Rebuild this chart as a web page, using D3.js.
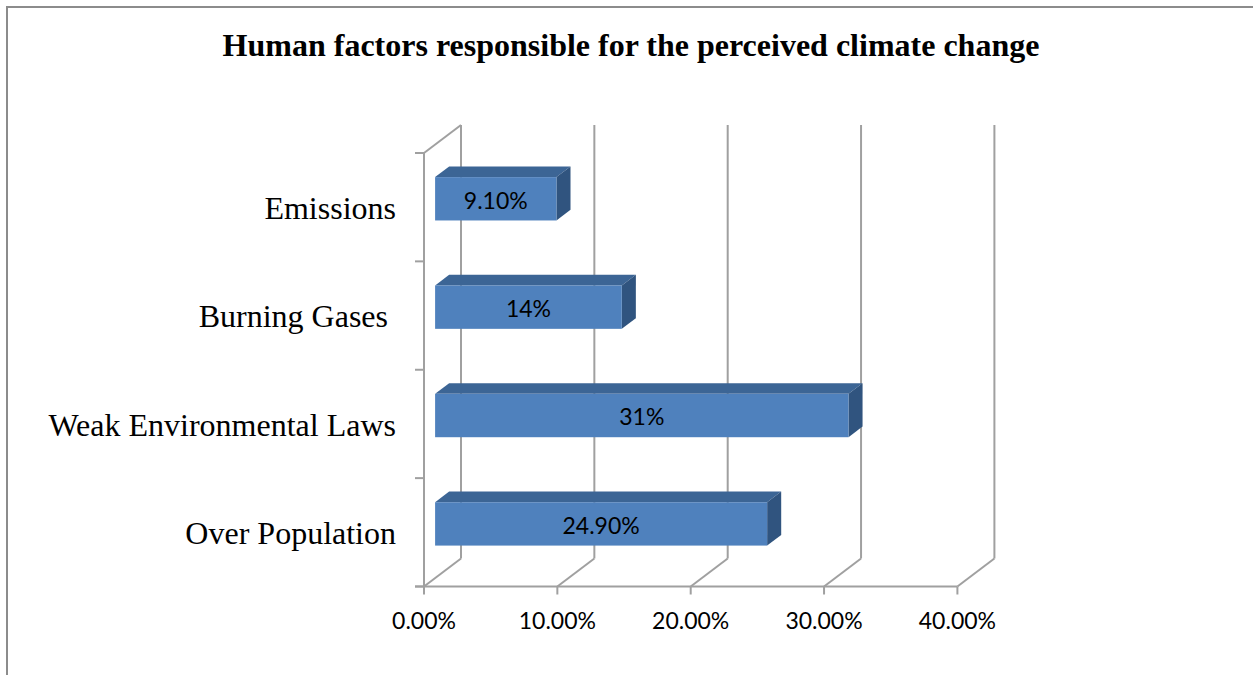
<!DOCTYPE html>
<html>
<head>
<meta charset="utf-8">
<script src="https://d3js.org/d3.v7.min.js"></script>
<style>
  html, body { margin: 0; padding: 0; background: #fff; }
  svg { display: block; }
</style>
</head>
<body>
<svg id="chart" width="1253" height="675"></svg>
<script>
// ---- data ----
const title = "Human factors responsible for the perceived climate change";
const categories = ["Emissions", "Burning Gases ", "Weak Environmental Laws", "Over Population"];
const values = [9.1, 14, 31, 24.9];
const valueLabels = ["9.10%", "14%", "31%", "24.90%"];
const xTicks = [0, 10, 20, 30, 40];
const xTickLabels = ["0.00%", "10.00%", "20.00%", "30.00%", "40.00%"];

// ---- layout ----
const svg = d3.select("#chart");
const W = 1253, H = 675;
const depth = { dx: 37, dy: -28 };           // 3D wall depth
const barFront = 0.30, barBack = 0.68;      // bar depth fractions
const plot = { left: 424, right: 957.4, top: 153, bottom: 586.5 };

const x = d3.scaleLinear().domain([0, 40]).range([plot.left, plot.right]);
const y = d3.scaleBand().domain(categories).range([plot.top, plot.bottom])
  .paddingInner(0.6).paddingOuter(0.3);
const yGrid = d3.scaleBand().domain(categories).range([plot.top, plot.bottom]).padding(0);

const grid = "#a0a0a0";

// frame
svg.append("path")
  .attr("d", `M7,${H} L7,7 L${W},7`)
  .attr("fill", "none").attr("stroke", "#8c8c8c").attr("stroke-width", 2);

// title
svg.append("text")
  .attr("x", 631).attr("y", 56)
  .attr("text-anchor", "middle")
  .attr("font-family", "'Liberation Serif', 'Times New Roman', serif")
  .attr("font-weight", "bold").attr("font-size", 32)
  .text(title);

const g = svg.append("g");

// back wall vertical gridlines
g.selectAll(".vgrid").data(xTicks).join("line")
  .attr("x1", d => x(d) + depth.dx).attr("x2", d => x(d) + depth.dx)
  .attr("y1", plot.top + depth.dy).attr("y2", plot.bottom + depth.dy)
  .attr("stroke", grid).attr("stroke-width", 2);

// floor diagonals
g.selectAll(".fdiag").data(xTicks).join("line")
  .attr("x1", d => x(d)).attr("y1", plot.bottom)
  .attr("x2", d => x(d) + depth.dx).attr("y2", plot.bottom + depth.dy)
  .attr("stroke", grid).attr("stroke-width", 2);

// left wall top diagonal
g.append("line")
  .attr("x1", plot.left).attr("y1", plot.top)
  .attr("x2", plot.left + depth.dx).attr("y2", plot.top + depth.dy)
  .attr("stroke", grid).attr("stroke-width", 2);

// left front axis line
g.append("line")
  .attr("x1", plot.left).attr("x2", plot.left)
  .attr("y1", plot.top).attr("y2", plot.bottom)
  .attr("stroke", grid).attr("stroke-width", 2);

// category ticks on left
const catTickY = categories.map(c => yGrid(c)).concat([plot.bottom]);
g.selectAll(".ctick").data(catTickY).join("line")
  .attr("x1", plot.left - 9).attr("x2", plot.left)
  .attr("y1", d => d).attr("y2", d => d)
  .attr("stroke", grid).attr("stroke-width", 2);

// front floor line
g.append("line")
  .attr("x1", plot.left - 9).attr("x2", plot.right)
  .attr("y1", plot.bottom).attr("y2", plot.bottom)
  .attr("stroke", grid).attr("stroke-width", 2);

// x ticks
g.selectAll(".xtick").data(xTicks).join("line")
  .attr("x1", d => x(d)).attr("x2", d => x(d))
  .attr("y1", plot.bottom).attr("y2", plot.bottom + 8)
  .attr("stroke", grid).attr("stroke-width", 2);

// x tick labels
g.selectAll(".xlab").data(xTicks).join("text")
  .attr("x", d => x(d)).attr("y", 629)
  .attr("text-anchor", "middle")
  .attr("font-family", "Lato, 'Open Sans', sans-serif")
  .attr("font-size", 23).attr("fill", "#000")
  .text((d, i) => xTickLabels[i]);

// category labels
g.selectAll(".clab").data(categories).join("text")
  .attr("x", 396)
  .attr("y", d => yGrid(d) + yGrid.bandwidth() / 2 + 11.8)
  .attr("text-anchor", "end")
  .attr("font-family", "'Liberation Serif', 'Times New Roman', serif")
  .attr("font-size", 32).attr("fill", "#000")
  .style("white-space", "pre")
  .text(d => d);

// bars (3D boxes)
const fdx = depth.dx * barFront, fdy = depth.dy * barFront;
const bdx = depth.dx * barBack, bdy = depth.dy * barBack;
const ddx = bdx - fdx, ddy = bdy - fdy;

const bars = g.selectAll(".bar").data(categories).join("g");
bars.each(function (c, i) {
  const gb = d3.select(this);
  const x0 = x(0) + fdx, x1 = x(values[i]) + fdx;
  const y0 = y(c) + fdy, y1 = y0 + y.bandwidth();
  // top face
  gb.append("path")
    .attr("d", `M${x0},${y0} L${x0 + ddx},${y0 + ddy} L${x1 + ddx},${y0 + ddy} L${x1},${y0} Z`)
    .attr("fill", "#3c6595");
  // side face
  gb.append("path")
    .attr("d", `M${x1},${y0} L${x1 + ddx},${y0 + ddy} L${x1 + ddx},${y1 + ddy} L${x1},${y1} Z`)
    .attr("fill", "#30547f");
  // front face
  gb.append("rect")
    .attr("x", x0).attr("y", y0)
    .attr("width", x1 - x0).attr("height", y1 - y0)
    .attr("fill", "#4f81bd");
  // label
  gb.append("text")
    .attr("x", (x0 + x1) / 2).attr("y", (y0 + y1) / 2 + 9.8)
    .attr("text-anchor", "middle")
    .attr("font-family", "Lato, 'Open Sans', sans-serif")
    .attr("font-size", 23).attr("fill", "#000")
    .text(valueLabels[i]);
});
</script>
</body>
</html>
